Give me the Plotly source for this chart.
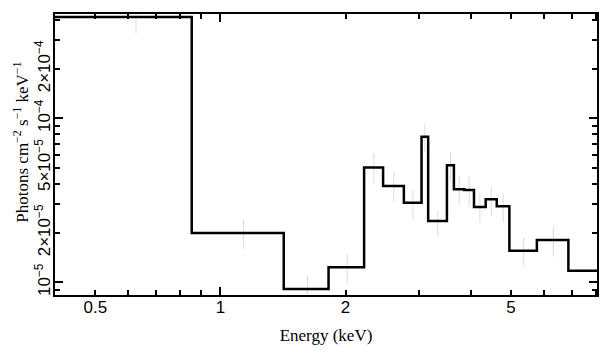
import math
import plotly.graph_objects as go

# Bin edges (keV) and step values (photons cm^-2 s^-1 keV^-1)
bin_edges = [0.4, 0.853, 1.42, 1.82, 2.216, 2.462, 2.762, 3.046, 3.16, 3.506,
             3.644, 3.86, 4.073, 4.345, 4.62, 4.955, 5.77, 6.87, 9.4]
step_values = [4.15e-4, 2.0e-5, 9.1e-6, 1.235e-5, 5.02e-5, 3.87e-5, 3.06e-5,
               7.72e-5, 2.365e-5, 5.17e-5, 3.69e-5, 3.655e-5, 2.88e-5, 3.21e-5,
               2.91e-5, 1.558e-5, 1.81e-5, 1.177e-5]
# Error bar ends
err_low = [3.31e-4, 1.589e-5, 7.58e-6, 9.86e-6, 4.02e-5, 3.10e-5, 2.42e-5,
           6.20e-5, 1.897e-5, 4.11e-5, 2.96e-5, 2.92e-5, 2.31e-5, 2.54e-5,
           2.31e-5, 1.245e-5, 1.433e-5, 9.5e-6]
err_high = [5.19e-4, 2.40e-5, 1.093e-5, 1.481e-5, 6.12e-5, 4.73e-5, 3.66e-5,
            9.32e-5, 2.72e-5, 6.20e-5, 4.45e-5, 4.40e-5, 3.49e-5, 3.83e-5,
            3.49e-5, 1.897e-5, 2.18e-5, 1.42e-5]

x_tickvals = [0.5, 1, 2, 5]
x_ticktext = ["0.5", "1", "2", "5"]
x_minor = [0.4, 0.6, 0.7, 0.8, 0.9, 3, 4, 6, 7, 8]
x_decades = [1]
y_tickvals = [1e-5, 2e-5, 5e-5, 1e-4, 2e-4]
y_ticktext = ["10<sup>−5</sup>", "2×10<sup>−5</sup>", "5×10<sup>−5</sup>",
              "10<sup>−4</sup>", "2×10<sup>−4</sup>"]
y_minor = [9e-6, 3e-5, 4e-5, 6e-5, 7e-5, 8e-5, 9e-5, 3e-4, 4e-4]
y_decades = [1e-5, 1e-4]
x_title = "Energy (keV)"
y_title = "Photons cm<sup>−2</sup> s<sup>−1</sup> keV<sup>−1</sup>"

x_range = [math.log10(0.4), math.log10(8.05)]
y_range = [-5.0774, -3.364]

fig = go.Figure()

# error bars as light grey vertical segments at bin centres
ex, ey = [], []
for i in range(len(step_values)):
    c = (bin_edges[i] + bin_edges[i + 1]) / 2
    ex += [c, c, None]
    ey += [err_low[i], err_high[i], None]
fig.add_trace(go.Scatter(x=ex, y=ey, mode="lines",
                         line=dict(color="#dcdcdc", width=1),
                         hoverinfo="skip", showlegend=False))

# step histogram
fig.add_trace(go.Scatter(x=bin_edges, y=step_values + [step_values[-1]],
                         mode="lines", line=dict(color="black", width=2.5, shape="hv"),
                         showlegend=False))

# invisible trace for the decade-tick overlay axes
fig.add_trace(go.Scatter(x=[1], y=[1e-5], xaxis="x2", yaxis="y2", mode="markers",
                         marker=dict(opacity=0), hoverinfo="skip", showlegend=False))

tickfont = dict(family="Liberation Sans, Arial, sans-serif", size=17, color="black")
titlefont = dict(family="Liberation Serif, Times New Roman, serif", size=17, color="black")

# page body has an 8px margin, so the figure is sized to fit inside the window
fig.update_layout(
    width=601, height=349,
    margin=dict(l=47, r=12, t=6, b=62),
    paper_bgcolor="white", plot_bgcolor="white",
    xaxis=dict(type="log", range=x_range, tickmode="array", tickvals=x_tickvals,
               ticktext=x_ticktext, ticks="inside", ticklen=5, tickwidth=1.5,
               tickcolor="black", showline=True, linecolor="black", linewidth=2,
               mirror="allticks", showgrid=False, zeroline=False, tickfont=tickfont,
               automargin=False, ticklabelstandoff=-4,
               minor=dict(tickmode="array", tickvals=x_minor, ticks="inside",
                          ticklen=5, tickwidth=1.5, tickcolor="black", showgrid=False),
               title=dict(text=x_title, font=titlefont, standoff=13)),
    yaxis=dict(type="log", range=y_range, tickmode="array", tickvals=y_tickvals,
               ticktext=y_ticktext, ticks="inside", ticklen=5, tickwidth=1.5,
               tickcolor="black", showline=True, linecolor="black", linewidth=2,
               mirror="allticks", showgrid=False, zeroline=False, tickfont=tickfont,
               tickangle=-90, automargin=False, ticklabelstandoff=-4,
               minor=dict(tickmode="array", tickvals=y_minor, ticks="inside",
                          ticklen=5, tickwidth=1.5, tickcolor="black", showgrid=False)),
    xaxis2=dict(type="log", range=x_range, overlaying="x", tickmode="array",
                tickvals=x_decades, ticks="inside", ticklen=8, tickwidth=1.5,
                tickcolor="black", showticklabels=False, showline=False,
                mirror="allticks", showgrid=False, zeroline=False, automargin=False),
    yaxis2=dict(type="log", range=y_range, overlaying="y", tickmode="array",
                tickvals=y_decades, ticks="inside", ticklen=8, tickwidth=1.5,
                tickcolor="black", showticklabels=False, showline=False,
                mirror="allticks", showgrid=False, zeroline=False, automargin=False),
    annotations=[dict(text=y_title, textangle=-90, xref="paper", yref="paper",
                      x=-0.063, y=0.545, xanchor="center", yanchor="middle",
                      showarrow=False, font=titlefont)],
)

fig.write_html("out.html")
